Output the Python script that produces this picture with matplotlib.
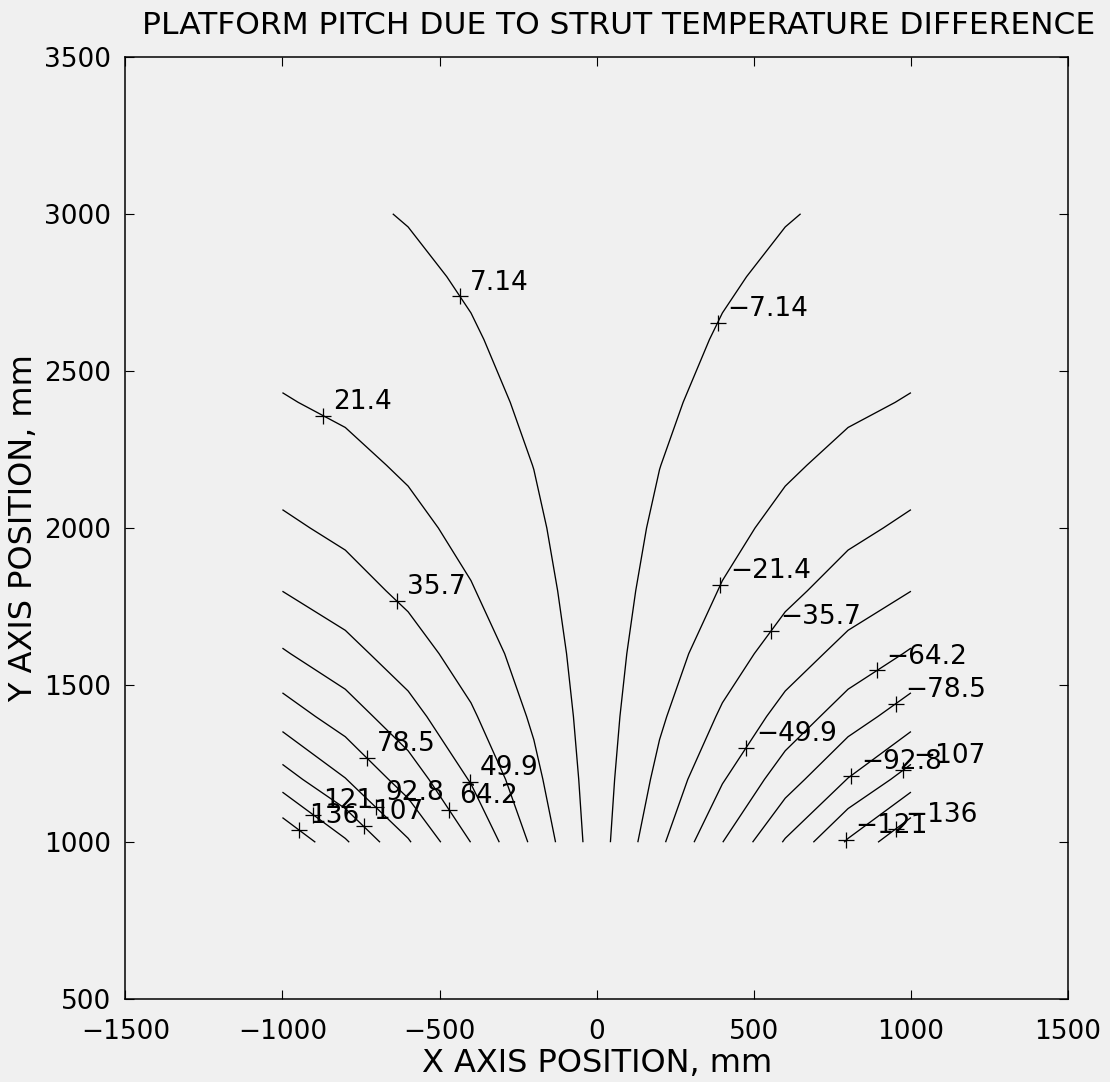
import numpy as np
import matplotlib
matplotlib.use("Agg")
import matplotlib.pyplot as plt

# grid nodes of the computed pitch field, mm
x_nodes = [-1000, -800, -600, -400, -200, 0, 200, 400, 600, 800, 1000]
y_nodes = [1000, 1200, 1400, 1600, 1800, 2000, 2200, 2400, 2600, 2800, 3000]

# pitch at x = -200, -400, -600, -800, -1000 for every y row
# (the right half is the same field with the sign reversed)
pitch_left = [
    [32.7, 64.0, 94.2, 122.8, 150.5],
    [25.0, 48.8, 71.8, 93.3, 113.5],
    [19.3, 37.6, 55.1, 71.5, 86.3],
    [14.9, 28.9, 42.3, 54.7, 65.6],
    [11.5, 22.2, 32.4, 41.8, 49.8],
    [9.0, 17.3, 25.2, 32.4, 38.3],
    [7.0, 13.4, 19.5, 25.0, 29.4],
    [5.3, 10.2, 14.9, 19.0, 22.2],
    [4.2, 7.9, 11.5, 14.7, 17.0],
    [3.2, 6.1, 8.8, 11.2, 12.9],
    [2.4, 4.6, 6.7, 8.5, 9.7],
]

levels = [-136, -121, -107, -92.8, -78.5, -64.2, -49.9, -35.7, -21.4, -7.14,
          7.14, 21.4, 35.7, 49.9, 64.2, 78.5, 92.8, 107, 121, 136]

# where each level gets its "+" label (snapped onto the line)
label_spots = [(953, 1039), (794, 1005), (980, 1224), (800, 1226), (955, 1436),
               (895, 1542), (478, 1300), (556, 1670), (397, 1818), (386, 2652),
               (-438, 2735), (-873, 2352), (-634, 1768), (-404, 1192), (-468, 1102),
               (-733, 1267), (-701, 1113), (-738, 1054), (-903, 1087), (-945, 1039)]

rows = []
for r in pitch_left:
    rows.append(r[::-1] + [0.0] + [-v for v in r])
Z = np.array(rows)
X, Y = np.meshgrid(x_nodes, y_nodes)

bg = "#f0f0f0"
fig = plt.figure(figsize=(11.1, 10.82), dpi=100, facecolor=bg)
ax = fig.add_axes([0.1129, 0.0764, 0.8493, 0.8712], facecolor=bg)

cs = ax.contour(X, Y, Z, levels=levels, colors="black", linewidths=0.95,
                linestyles="solid", negative_linestyles="solid")


def snap(segs, px, py):
    best, bd = (px, py), np.inf
    for seg in segs:
        for (x0, y0), (x1, y1) in zip(seg[:-1], seg[1:]):
            dx, dy = x1 - x0, y1 - y0
            t = ((px - x0) * dx + (py - y0) * dy) / (dx * dx + dy * dy)
            t = min(max(t, 0.0), 1.0)
            qx, qy = x0 + t * dx, y0 + t * dy
            d = (qx - px) ** 2 + (qy - py) ** 2
            if d < bd:
                best, bd = (qx, qy), d
    return best


def fmt(v):
    s = "%.3g" % abs(v)
    return ("\u2212" if v < 0 else "") + s


for i, lev in enumerate(levels):
    qx, qy = snap(cs.allsegs[i], *label_spots[i])
    ax.plot(qx, qy, marker="+", color="black", markersize=11.5, markeredgewidth=0.9)
    ax.annotate(fmt(lev), (qx, qy), xytext=(7, 5), textcoords="offset points",
                ha="left", va="baseline", fontsize=19)

ax.set_xlim(-1500, 1500)
ax.set_ylim(500, 3500)
ax.set_xticks([-1500, -1000, -500, 0, 500, 1000, 1500])
ax.set_yticks([500, 1000, 1500, 2000, 2500, 3000, 3500])
ax.tick_params(direction="in", length=6.5, width=0.8, top=True, right=True,
               labelsize=19)
ax.tick_params(axis="x", pad=14)
ax.tick_params(axis="y", pad=10)
for sp in ax.spines.values():
    sp.set_linewidth(1.1)

ax.set_xlabel("X AXIS POSITION, mm", fontsize=23, labelpad=2)
ax.set_ylabel("Y AXIS POSITION, mm", fontsize=23, labelpad=4)
fig.text(619 / 1110, 1 - 26 / 1082, "PLATFORM PITCH DUE TO STRUT TEMPERATURE DIFFERENCE",
         ha="center", va="center", fontsize=22.5)

fig.savefig("out.png", dpi=100, facecolor=bg)
